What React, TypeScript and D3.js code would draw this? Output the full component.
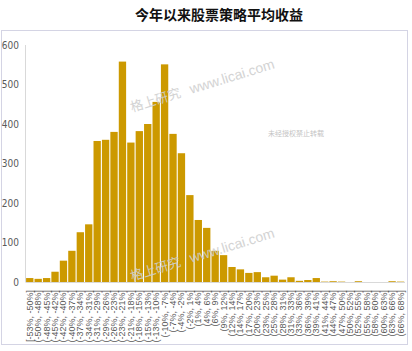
import React from 'react';
import * as d3 from 'd3';

// return buckets and number of strategies in each bucket
const buckets = [
  '[-53%, -50%]', '(-50%, -48%]', '(-48%, -45%]', '(-45%, -42%]', '(-42%, -40%]',
  '(-40%, -37%]', '(-37%, -34%]', '(-34%, -31%]', '(-31%, -29%]', '(-29%, -26%]',
  '(-26%, -23%]', '(-23%, -21%]', '(-21%, -18%]', '(-18%, -15%]', '(-15%, -13%]',
  '(-13%, -10%]', '(-10%, -7%]', '(-7%, -4%]', '(-4%, -2%]', '(-2%, 1%]',
  '(1%, 4%]', '(4%, 6%]', '(6%, 9%]', '(9%, 12%]', '(12%, 14%]',
  '(14%, 17%]', '(17%, 20%]', '(20%, 23%]', '(23%, 25%]', '(25%, 28%]',
  '(28%, 31%]', '(31%, 33%]', '(33%, 36%]', '(36%, 39%]', '(39%, 41%]',
  '(41%, 44%]', '(44%, 47%]', '(47%, 50%]', '(50%, 52%]', '(52%, 55%]',
  '(55%, 58%]', '(58%, 60%]', '(60%, 63%]', '(63%, 66%]', '(66%, 68%]',
];
const counts = [
  10, 8, 10, 26, 54, 79, 126, 146, 357, 360,
  380, 558, 353, 382, 400, 456, 551, 375, 326, 220,
  157, 137, 79, 68, 38, 32, 23, 25, 12, 16,
  6, 12, 3, 5, 10, 1, 2, 1, 0, 2,
  0, 0, 0, 2, 1,
];
const yTicks = [0, 100, 200, 300, 400, 500, 600];

const title = '今年以来股票策略平均收益';

const W = 412;
const H = 351;

const App = () => {
  const x = d3.scaleBand<number>()
    .domain(d3.range(buckets.length))
    .range([25.5, 404.8])
    .paddingInner(0.13)
    .paddingOuter(0.07);

  const y = d3.scaleLinear()
    .domain([0, 600])
    .range([282, 45]);

  const axisFont = '"Liberation Sans Narrow", "DejaVu Sans Condensed", "Liberation Sans", Arial, sans-serif';
  const labelFont = '"Liberation Sans", Arial, sans-serif';

  return (
    <svg width={W} height={H} style={{ position: 'absolute', left: 0, top: 0, background: '#fff' }}>
      {/* frame */}
      <rect x={1.5} y={30.5} width={406} height={314} fill="none" stroke="#d4d4e4" />

      {/* title */}
      <text x={219} y={20} textAnchor="middle" fontSize={14} fontWeight="bold"
        fontFamily='"Noto Sans CJK SC", sans-serif' fill="#111">{title}</text>

      {/* y axis */}
      <line x1={25.5} x2={25.5} y1={y(600)} y2={y(0)} stroke="#d9d9d9" />
      {yTicks.map(t => (
        <text key={t} x={19} y={y(t)} dy="0.35em" textAnchor="end" fontSize={10}
          fontFamily={axisFont} fill="#595959">{t}</text>
      ))}

      {/* bars */}
      {counts.map((c, i) => (
        <rect key={i} x={x(i)} y={y(c)} width={x.bandwidth()} height={y(0) - y(c)}
          fill="#CC9900" />
      ))}

      {/* x axis */}
      <line x1={25.5} x2={405} y1={282.5} y2={282.5} stroke="#d9d9d9" />
      {buckets.map((b, i) => (
        <text key={b} transform={`translate(${(x(i) as number) + x.bandwidth() / 2 + 3},290) rotate(-90)`}
          textAnchor="end" fontSize={9} fontFamily={labelFont} fill="#595959">{b}</text>
      ))}

      {/* watermarks */}
      {[112, 281].map(by => (
        <g key={by} transform={`translate(132,${by}) rotate(-17)`} fill="#cfcfcf" opacity={0.9}>
          <text x={0} y={0} fontSize={13} fontFamily='"Noto Sans CJK SC", sans-serif'>格上研究</text>
          <text x={62} y={0} fontSize={14} fontFamily={labelFont}>www.licai.com</text>
        </g>
      ))}
      <text x={268} y={136} fontSize={7} fontFamily='"Noto Sans CJK SC", sans-serif' fill="#c4c4c4">未经授权禁止转载</text>
    </svg>
  );
};

export default App;
